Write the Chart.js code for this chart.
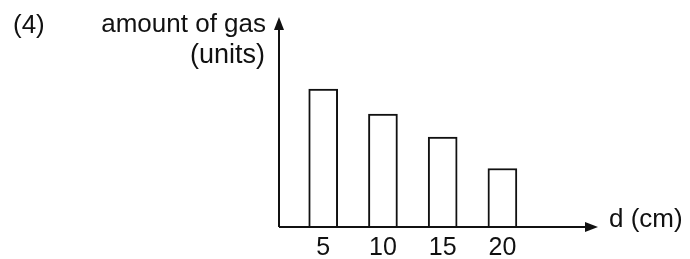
<!DOCTYPE html>
<html>
<head>
<meta charset="utf-8">
<script src="https://cdn.jsdelivr.net/npm/chart.js@4.4.1/dist/chart.umd.min.js"></script>
<style>
    html, body { margin: 0; padding: 0; background: #fff; }
    #wrap { position: relative; width: 690px; height: 259px; }
</style>
</head>
<body>
<div id="wrap"><canvas id="gasChart"></canvas></div>
<script>
    // distance d (cm) and amount of gas (units)
    const distances = [5, 10, 15, 20];
    const gasAmounts = [6.6, 5.4, 4.3, 2.8];
    const tickValues = [5, 10, 15, 20];

    const ink = '#111';
    const family = '"Liberation Sans", Arial, sans-serif';

    function arrowHead(ctx, x, y, dir) {
        ctx.beginPath();
        if (dir === 'up') {
            ctx.moveTo(x, y);
            ctx.lineTo(x - 5, y + 13);
            ctx.lineTo(x + 5, y + 13);
        } else {
            ctx.moveTo(x, y);
            ctx.lineTo(x - 13, y - 5);
            ctx.lineTo(x - 13, y + 5);
        }
        ctx.closePath();
        ctx.fill();
    }

    const axesPlugin = {
        id: 'axesPlugin',
        afterDatasetsDraw(chart) {
            const ctx = chart.ctx;
            const area = chart.chartArea;
            ctx.save();
            ctx.strokeStyle = ink;
            ctx.fillStyle = ink;
            ctx.lineWidth = 2;
            ctx.beginPath();
            ctx.moveTo(area.left, area.bottom);
            ctx.lineTo(area.left, area.top + 4);
            ctx.moveTo(area.left, area.bottom);
            ctx.lineTo(area.right - 4, area.bottom);
            ctx.stroke();
            arrowHead(ctx, area.left, area.top - 1, 'up');
            arrowHead(ctx, area.right, area.bottom, 'right');

            ctx.font = '26px ' + family;
            ctx.textBaseline = 'alphabetic';
            ctx.textAlign = 'left';
            ctx.fillText('(4)', 13, 33);
            ctx.fillText('d (cm)', area.right + 11, area.bottom);
            ctx.textAlign = 'right';
            ctx.fillText('amount of gas', area.left - 13, 32);
            ctx.font = '27px ' + family;
            ctx.fillText('(units)', area.left - 14, 63);
            ctx.restore();
        }
    };

    new Chart(document.getElementById('gasChart'), {
        type: 'bar',
        data: {
            datasets: [{
                data: distances.map((d, i) => ({ x: d, y: gasAmounts[i] })),
                backgroundColor: '#fff',
                borderColor: ink,
                borderWidth: 2,
                barThickness: 29
            }]
        },
        options: {
            responsive: true,
            maintainAspectRatio: false,
            animation: false,
            events: [],
            layout: { padding: { left: 279, right: 92, top: 18, bottom: 0 } },
            plugins: { legend: { display: false }, tooltip: { enabled: false } },
            scales: {
                x: {
                    type: 'linear',
                    min: 1.3,
                    max: 28,
                    offset: false,
                    grid: { display: false, drawTicks: false },
                    border: { display: false },
                    afterBuildTicks(scale) {
                        scale.ticks = tickValues.map(v => ({ value: v }));
                    },
                    afterFit(scale) { scale.height = 32; },
                    ticks: {
                        color: ink,
                        padding: 7,
                        autoSkip: false,
                        maxRotation: 0,
                        font: { family: family, size: 25, lineHeight: 1.1 }
                    }
                },
                y: {
                    display: false,
                    min: 0,
                    max: 10
                }
            }
        },
        plugins: [axesPlugin]
    });
</script>
</body>
</html>
